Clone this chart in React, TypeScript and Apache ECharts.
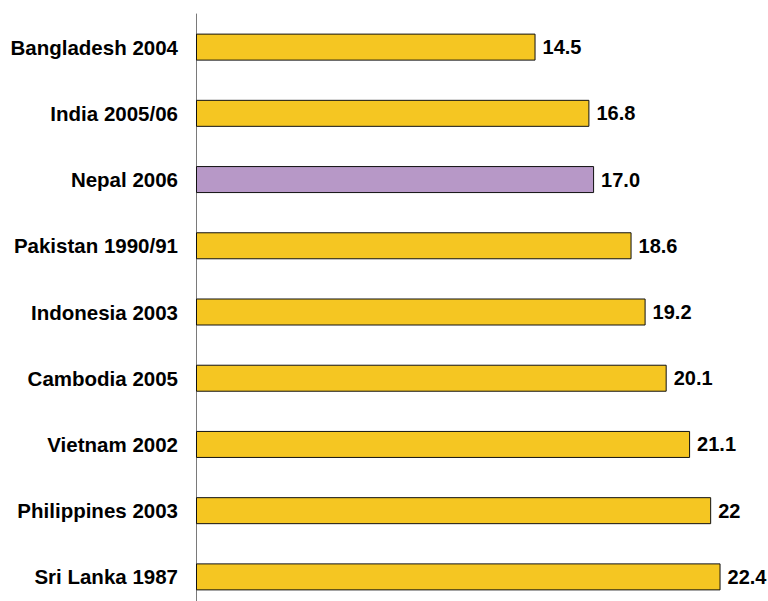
import React, { useEffect, useRef } from "react";
import * as echarts from "echarts";

const categories = [
  "Bangladesh 2004",
  "India 2005/06",
  "Nepal 2006",
  "Pakistan 1990/91",
  "Indonesia 2003",
  "Cambodia 2005",
  "Vietnam 2002",
  "Philippines 2003",
  "Sri Lanka 1987",
];
const values = [14.5, 16.8, 17.0, 18.6, 19.2, 20.1, 21.1, 22, 22.4];
const valueLabels = ["14.5", "16.8", "17.0", "18.6", "19.2", "20.1", "21.1", "22", "22.4"];
const highlight = "Nepal 2006";

const YELLOW = "#F5C622";
const PURPLE = "#B798C7";

export default function App() {
  const ref = useRef<HTMLDivElement>(null);
  useEffect(() => {
    if (!ref.current) return;
    const chart = echarts.init(ref.current, null, { renderer: "svg" });
    chart.setOption({
      animation: false,
      grid: { left: 196, width: 562, top: 14, height: 596, containLabel: false },
      xAxis: {
        type: "value",
        min: 0,
        max: 24,
        show: false,
        splitLine: { show: false },
      },
      yAxis: {
        type: "category",
        data: categories,
        inverse: true,
        axisLine: { show: true, lineStyle: { color: "#7a7a7a", width: 1 } },
        axisTick: { show: false },
        axisLabel: {
          margin: 18,
          color: "#000",
          fontFamily: "Liberation Sans, Arial, sans-serif",
          fontWeight: "bold",
          fontSize: 20.5,
        },
      },
      series: [
        {
          type: "bar",
          barWidth: 27,
          data: values.map((v, i) => ({
            value: v,
            itemStyle: {
              color: categories[i] === highlight ? PURPLE : YELLOW,
              borderColor: "#111",
              borderWidth: 1,
            },
          })),
          label: {
            show: true,
            position: "right",
            distance: 7,
            color: "#000",
            fontFamily: "Liberation Sans, Arial, sans-serif",
            fontWeight: "bold",
            fontSize: 20,
            formatter: (p: any) => valueLabels[p.dataIndex],
          },
        },
      ],
    });
    return () => chart.dispose();
  }, []);
  return (
    <div
      style={{
        position: "absolute",
        left: 0,
        top: 0,
        width: 768,
        height: 601,
        overflow: "hidden",
      }}
    >
      <div ref={ref} style={{ width: 768, height: 620 }} />
    </div>
  );
}
